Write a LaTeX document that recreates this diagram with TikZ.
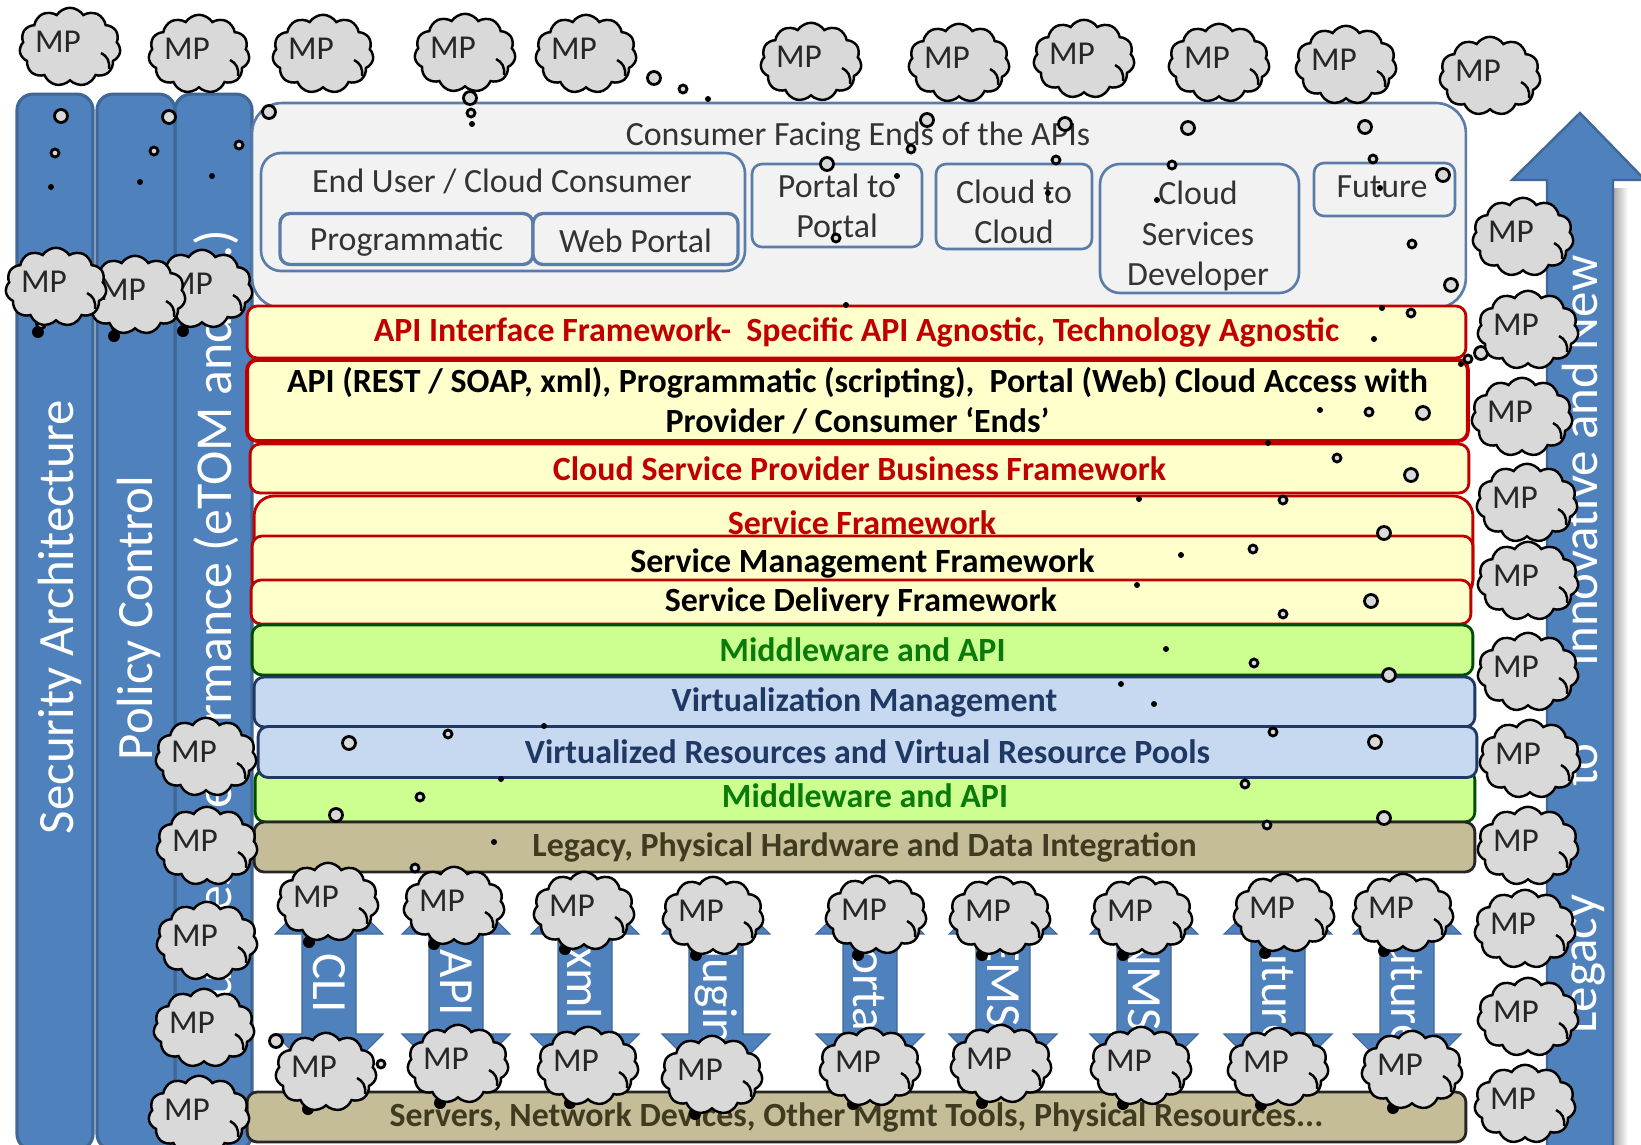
\documentclass[tikz,border=0pt]{standalone}
\usepackage{fontspec}
\setmainfont{Carlito}
\usetikzlibrary{shapes.symbols}
\definecolor{barblue}{HTML}{4F81BD}
\definecolor{baredge}{HTML}{3F6797}
\definecolor{boxedge}{HTML}{5A7CA8}
\definecolor{cloudgray}{HTML}{D9D9D9}
\definecolor{layeryellow}{HTML}{FFFFCC}
\definecolor{layerred}{HTML}{C00000}
\definecolor{layergreen}{HTML}{CCFF90}
\definecolor{layerblue}{HTML}{C6D9F1}
\definecolor{layertan}{HTML}{C4BD97}
\definecolor{textgreen}{HTML}{0A7A0A}
\definecolor{textblue}{HTML}{1F3864}
\definecolor{textbrown}{HTML}{3F3A20}
\tikzset{
  column/.style={draw=baredge,line width=1.8pt,fill=barblue,rounded corners=.32cm,inner sep=0pt},
  columntext/.style={text=white,rotate=90,font=\fontsize{29}{32}\selectfont},
  consumerbox/.style={draw=boxedge,line width=1.5pt,fill=black!5,rounded corners=.2cm,inner sep=0pt,text=black!80,align=center,font=\fontsize{19.3}{22.8}\selectfont},
  consumertext/.style={text=black!80,align=center,font=\fontsize{19.3}{22.8}\selectfont},
  layer/.style={line width=1.6pt,rounded corners=.2cm,inner sep=0pt,align=center,font=\bfseries\fontsize{19.3}{22.7}\selectfont},
  yellowlayer/.style={layer,draw=layerred,fill=layeryellow},
  greenlayer/.style={layer,draw=black!50!green!60!black,fill=layergreen,text=textgreen},
  bluelayer/.style={layer,draw=textblue,fill=layerblue,text=textblue},
  tanlayer/.style={layer,draw=black!85,fill=layertan,text=textbrown},
  updown/.style={draw=baredge,line width=.6pt,fill=barblue},
  updowntext/.style={text=white,rotate=-90,font=\fontsize{28}{30}\selectfont},
  bubble/.style={draw=black,line width=1.6pt,fill=cloudgray},
  mpshape/.style={draw=black,line width=1.4pt,fill=cloudgray,cloud,cloud puffs=11,cloud puff arc=115,aspect=1.3,minimum width=2.02cm,minimum height=1.57cm,inner sep=0pt},
  mpcloud/.pic={
    \node[mpshape] (-shape) at (0,2) {};
    \node[text=black!85,inner sep=0pt,font=\fontsize{19}{20}\selectfont] (-label) at (-12,-3) {MP};
    \draw[line width=1.4pt] (31,8) .. controls (37,11) and (40,16) .. (39,24);
  }
}
\begin{document}
\begin{tikzpicture}[x=0.02cm,y=-0.02cm]
  \clip (0,0) rectangle (1641,1144);
  % side columns
  \node[column,minimum width=1.54cm,minimum height=21.12cm] (performance) at (213.5,622) {};
  \node[column,minimum width=1.56cm,minimum height=21.12cm] (policy) at (136,622) {};
  \node[column,minimum width=1.52cm,minimum height=21.12cm] (security) at (55,622) {};
  \node[columntext] (securitytext) at (60,617) {Security Architecture};
  \node[columntext] (policytext) at (139,618) {Policy Control};
  \node[columntext,anchor=east,font=\fontsize{29.5}{32}\selectfont] (performancetext) at (216,223) {Business Performance (eTOM and\hspace{.62em}...)};
  % consumer facing ends
  \node[consumerbox,rounded corners=.6cm,minimum width=24.28cm,minimum height=4.1cm] (consumer) at (859,205.5) {};
  \node[consumertext] (consumertitle) at (858,137) {Consumer Facing Ends of the APIs};
  \node[consumerbox,rounded corners=.4cm,minimum width=9.68cm,minimum height=2.36cm] (enduser) at (503,212) {};
  \node[consumertext] (endusertext) at (502,181) {End User / Cloud Consumer};
  \node[consumerbox,line width=1.9pt,minimum width=5.06cm,minimum height=1.02cm] (programmatic) at (406.5,239) {};
  \node[consumertext] (programmatictext) at (406.5,242) {Programmatic};
  \node[consumerbox,line width=1.9pt,minimum width=4.1cm,minimum height=1.02cm] (webportal) at (635.5,239) {};
  \node[consumertext] (webportaltext) at (635.5,241) {Web Portal};
  \node[consumerbox,minimum width=3.4cm,minimum height=1.66cm] (portalportal) at (837,205.5) {Portal to\\Portal};
  \node[consumerbox,minimum width=3.12cm,minimum height=1.7cm] (cloudcloud) at (1014,206.5) {};
  \node[consumertext] (cloudcloudtext) at (1014,212) {Cloud to\\Cloud};
  \node[consumerbox,rounded corners=.4cm,minimum width=3.98cm,minimum height=2.58cm] (developer) at (1199.5,228.5) {};
  \node[consumertext] (developertext) at (1198,236) {Cloud\\Services\\Developer};
  \node[consumerbox,minimum width=2.82cm,minimum height=1.06cm] (future) at (1384.5,189.5) {};
  \node[consumertext] (futuretext) at (1382,187) {Future};
  % framework layers
  \node[yellowlayer,text=layerred,minimum width=24.38cm,minimum height=1.04cm] (apiframework) at (856.5,332) {API Interface Framework-~~Specific API Agnostic, Technology Agnostic};
  \node[yellowlayer,line width=2.2pt,minimum width=24.42cm,minimum height=1.62cm] (apirest) at (857.5,400.5) {API (REST / SOAP, xml), Programmatic (scripting),~~Portal (Web) Cloud Access with\\Provider / Consumer ‘Ends’};
  \node[yellowlayer,text=layerred,minimum width=24.38cm,minimum height=.98cm] (provider) at (859.5,468.5) {Cloud Service Provider Business Framework};
  \node[yellowlayer,rounded corners=.4cm,minimum width=24.38cm,minimum height=2.08cm] (serviceframe) at (863.5,548) {};
  \node[text=layerred,inner sep=0pt,font=\bfseries\fontsize{19.3}{22}\selectfont] (serviceframetext) at (862,523) {Service Framework};
  \node[yellowlayer,minimum width=24.42cm,minimum height=1.08cm] (servicemgmt) at (862.5,563) {Service Management Framework};
  \node[yellowlayer,minimum width=24.4cm,minimum height=.88cm] (servicedelivery) at (861,602) {Service Delivery Framework};
  \node[greenlayer,minimum width=24.42cm,minimum height=1cm] (middleware) at (862.5,650) {Middleware and API};
  \node[greenlayer,minimum width=24.4cm,minimum height=1.04cm] (middlewarelow) at (865,796) {Middleware and API};
  \node[bluelayer,minimum width=24.42cm,minimum height=1cm] (virtmgmt) at (864.5,702) {Virtualization Management};
  \node[bluelayer,minimum width=24.38cm,minimum height=1.02cm] (virtpools) at (867.5,752) {Virtualized Resources and Virtual Resource Pools};
  \node[tanlayer,minimum width=24.42cm,minimum height=1cm] (legacy) at (864.5,847) {Legacy, Physical Hardware and Data Integration};
  \node[tanlayer,minimum width=24.38cm,minimum height=1cm] (servers) at (856.5,1117) {Servers, Network Devices, Other Mgmt Tools, Physical Resources...};
  % up and down arrows
  \foreach \x/\word in {329/CLI,456/API,585/xml,716/Plugin,870/Portal,1003/EMS,1144/NMS,1278/Future,1407/Future}{
    \draw[updown] (\x,880) -- (\x+54,934) -- (\x+27,934) -- (\x+27,1034) -- (\x+54,1034) -- (\x,1088)
      -- (\x-54,1034) -- (\x-27,1034) -- (\x-27,934) -- (\x-54,934) -- cycle;
    \node[updowntext] (word\x) at (\x,983) {\word};
  }
  % legacy to new arrow
  \shade[left color=black!35,right color=white] (1613,188) rectangle (1628,1144);
  \draw[updown,line width=1.4pt] (1580,113) -- (1645,180) -- (1613,180) -- (1613,1150) -- (1547,1150)
    -- (1547,180) -- (1512,180) -- cycle;
  \node[columntext] (innovative) at (1580,461) {Innovative and New};
  \node[columntext] (arrowto) at (1582,765) {to};
  \node[columntext] (legacyword) at (1585,964) {Legacy};
  % thought bubbles
  \foreach \x/\y in {61/116,169/117,269/112,470/98,654/78,827/164,927/120,1065/124,1188/128,1365/127,1443/175,1451/285,1481/353,1423/413,1411/475,1384/533,1371/601,1389/675,1375/742,1384/818,349/743,336/815,276/1041}
    \draw[bubble] (\x,\y) circle[radius=.13cm];
  \foreach \x/\y in {55/153,154/151,239/145,471/113,683/89,836/238,911/149,1056/160,1172/165,1373/159,1412/244,1411/313,1468/359,1369/412,1337/458,1253/549,1283/500,1283/614,1254/663,1273/732,1245/784,1267/825,448/734,420/797,415/868,381/1064}
    \draw[bubble] (\x,\y) circle[radius=.08cm];
  \foreach \x/\y in {51/187,140/182,212/176,472/124,708/99,846/305,897/176,1048/193,1157/200,1380/188,1382/308,1374/339,1461/364,1320/410,1268/443,1139/499,1181/555,1137/585,1166/649,1154/704,1121/684,544/726,501/779,494/842}
    \fill (\x,\y) circle[radius=.06cm];
  \foreach \x/\y in {38/332,114/336,183/331,309/942,434/944,565/949,696/955,858/955,982/955,1123/955,1265/953,1384/951,308/1109,440/1103,570/1103,695/1114,853/1104,982/1103,1123/1104,1261/1105,1393/1108}{
    \fill (\x,\y) circle[radius=.12cm];
    \draw[bubble] (\x+3,\y-8) circle[radius=.09cm];
  }
  % clouds
  \foreach \x/\y [count=\i] in {70/45,199/52,323/52,465/51,586/52,811/60,959/61,1084/57,1219/61,1346/63,1490/74,
    202/287,135/293,56/285,
    1523/235,1528/328,1522/415,1527/501,1528/579,1528/670,1530/757,1528/844,1525/927,1528/1015,1525/1102,
    206/755,207/844,207/939,204/1026,199/1113,
    328/900,454/904,584/909,713/914,876/913,1000/914,1142/914,1284/911,1403/911,
    326/1070,458/1062,588/1064,712/1073,870/1065,1001/1062,1141/1064,1278/1065,1412/1068}
    \pic (mp\i) at (\x,\y) {mpcloud};
\end{tikzpicture}
\end{document}
